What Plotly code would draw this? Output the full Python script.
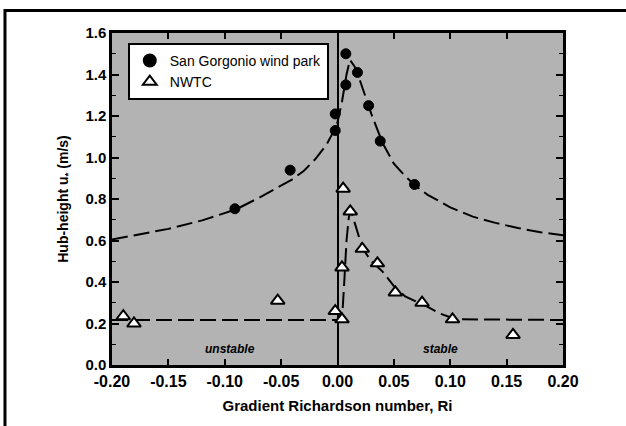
import plotly.graph_objects as go

# San Gorgonio wind park (filled circles)
sg_ri = [-0.091, -0.042, -0.002, -0.002, 0.0074, 0.0074, 0.0177, 0.0276, 0.0379, 0.0683]
sg_u = [0.753, 0.939, 1.13, 1.21, 1.35, 1.50, 1.41, 1.25, 1.079, 0.87]

# NWTC (open triangles)
nw_ri = [-0.190, -0.1805, -0.053, -0.002, 0.004, 0.004, 0.005, 0.0113, 0.022, 0.0354, 0.0513, 0.075, 0.102, 0.1557]
nw_u = [0.235, 0.20, 0.31, 0.26, 0.22, 0.47, 0.85, 0.74, 0.56, 0.49, 0.35, 0.30, 0.22, 0.145]

# Dashed fit curves
sg_fit_ri = [-0.20, -0.18, -0.15, -0.12, -0.09, -0.07, -0.05, -0.04, -0.03, -0.02, -0.01, -0.005, 0.0,
             0.004, 0.008, 0.011, 0.015, 0.02, 0.025, 0.03, 0.04, 0.05, 0.06, 0.07, 0.08, 0.10,
             0.12, 0.14, 0.16, 0.18, 0.20]
sg_fit_u = [0.605, 0.625, 0.656, 0.697, 0.75, 0.805, 0.865, 0.895, 0.935, 0.99, 1.06, 1.11, 1.17,
            1.27, 1.40, 1.47, 1.44, 1.37, 1.29, 1.21, 1.07, 0.97, 0.91, 0.86, 0.82, 0.76,
            0.715, 0.685, 0.66, 0.64, 0.625]

nw_fit_ri = [-0.20, 0.004, 0.006, 0.008, 0.010, 0.0117, 0.015, 0.02, 0.025, 0.03, 0.04, 0.05, 0.06,
             0.07, 0.08, 0.09, 0.10, 0.11, 0.20]
nw_fit_u = [0.217, 0.217, 0.40, 0.60, 0.71, 0.745, 0.69, 0.60, 0.54, 0.50, 0.45, 0.38, 0.33,
            0.305, 0.28, 0.25, 0.23, 0.22, 0.217]

x_ticks = [-0.20, -0.15, -0.10, -0.05, 0.00, 0.05, 0.10, 0.15, 0.20]
x_labels = ["-0.20", "-0.15", "-0.10", "-0.05", "0.00", "0.05", "0.10", "0.15", "0.20"]
y_ticks = [0.0, 0.2, 0.4, 0.6, 0.8, 1.0, 1.2, 1.4, 1.6]
y_labels = ["0.0", "0.2", "0.4", "0.6", "0.8", "1.0", "1.2", "1.4", "1.6"]

FONT = "Liberation Sans, Arial, sans-serif"

fig = go.Figure()

fig.add_trace(go.Scatter(x=sg_fit_ri, y=sg_fit_u, mode="lines", showlegend=False,
                         line=dict(color="black", width=2, dash="16px,6px"), hoverinfo="skip"))
fig.add_trace(go.Scatter(x=nw_fit_ri, y=nw_fit_u, mode="lines", showlegend=False,
                         line=dict(color="black", width=2, dash="16px,6px"), hoverinfo="skip"))

fig.add_trace(go.Scatter(x=sg_ri, y=sg_u, mode="markers", name="San Gorgonio wind park",
                         marker=dict(symbol="circle", size=10, color="black",
                                     line=dict(color="black", width=1))))
fig.add_trace(go.Scatter(x=nw_ri, y=nw_u, mode="markers", name="NWTC",
                         marker=dict(symbol="triangle-up", size=12, color="white",
                                     line=dict(color="black", width=2))))

fig.add_annotation(x=-0.095, y=0.077, text="<b><i>unstable</i></b>", showarrow=False,
                   font=dict(family=FONT, size=12, color="black"))
fig.add_annotation(x=0.091, y=0.077, text="<b><i>stable</i></b>", showarrow=False,
                   font=dict(family=FONT, size=12, color="black"))

# outer frame lines (left and top) of the original figure
fig.add_shape(type="line", xref="paper", yref="paper", x0=-0.2373, x1=1.1397, y0=1.0678, y1=1.0678,
              line=dict(color="black", width=3))
fig.add_shape(type="line", xref="paper", yref="paper", x0=-0.2373, x1=-0.2373, y0=1.072, y1=-0.1837,
              line=dict(color="black", width=3))

fig.update_layout(
    width=626, height=426,
    margin=dict(l=112, r=63, t=33, b=61),
    paper_bgcolor="white",
    plot_bgcolor="#b3b3b3",
    font=dict(family=FONT, color="black"),
    legend=dict(x=0.035, y=0.97, xanchor="left", yanchor="top",
                bgcolor="white", bordercolor="black", borderwidth=2,
                font=dict(family=FONT, size=14, color="black"),
                tracegroupgap=0, itemsizing="constant"),
    xaxis=dict(range=[-0.2, 0.2], tickvals=x_ticks, ticktext=x_labels,
               ticks="inside", ticklen=6, tickwidth=1.5, tickcolor="black",
               showline=True, linecolor="black", linewidth=2.5, mirror="ticks",
               showgrid=False, zeroline=True, zerolinecolor="black", zerolinewidth=1.5,
               tickfont=dict(family=FONT, size=16, color="black", weight="bold"),
               title=dict(text="Gradient Richardson number, Ri", standoff=12,
                          font=dict(family=FONT, size=15, color="black", weight="bold"))),
    yaxis=dict(range=[0, 1.6], tickvals=y_ticks, ticktext=y_labels,
               ticks="inside", ticklen=7, tickwidth=1.5, tickcolor="black",
               minor=dict(dtick=0.1, ticks="inside", ticklen=4, tickwidth=1.2, tickcolor="black"),
               showline=True, linecolor="black", linewidth=2.5, mirror="ticks",
               showgrid=False, zeroline=False,
               tickfont=dict(family=FONT, size=15, color="black", weight="bold"),
               title=dict(text="Hub-height u<sub>*</sub> (m/s)", standoff=14,
                          font=dict(family=FONT, size=14, color="black", weight="bold"))),
)

fig.write_html("out.html")
